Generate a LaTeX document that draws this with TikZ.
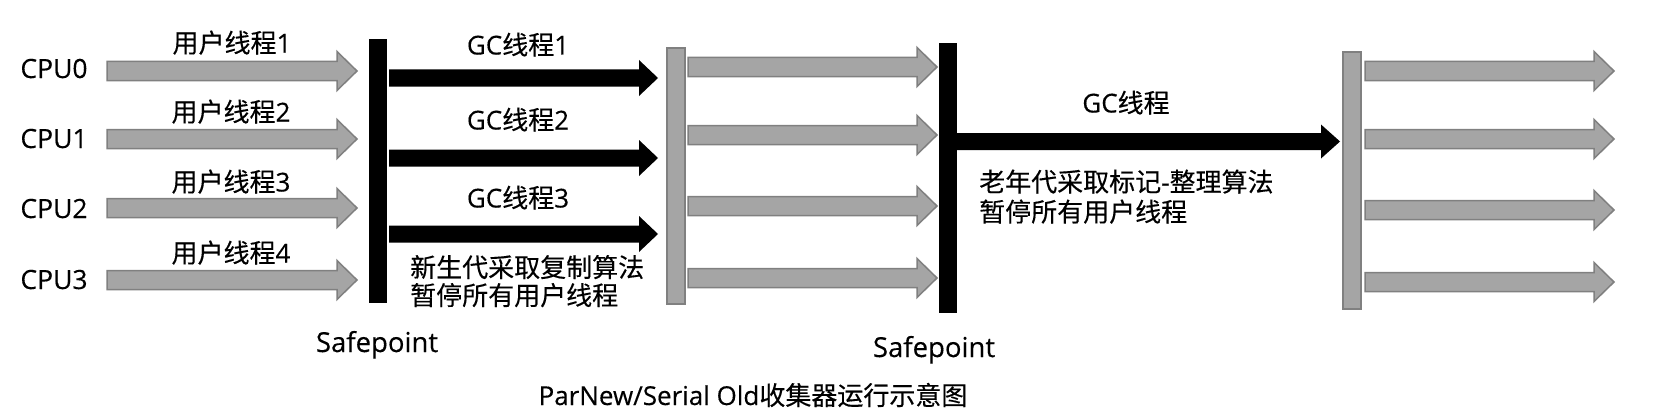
\documentclass[tikz,border=0pt]{standalone}
\usepackage{fontspec}
\setmainfont{Open Sans}[FakeBold=0.3]
\newfontfamily\cjkf{Noto Sans CJK SC}[FakeBold=0.3]
\newcommand{\zh}[1]{{\cjkf #1}}
\definecolor{gfill}{RGB}{165,165,165}
\definecolor{gline}{RGB}{128,128,128}
% style, x-start, x-tip, y-center, half shaft, half head, head length
\newcommand{\blockarrow}[7]{%
  \path[#1] (#2,#4-#5) -- (#3-#7,#4-#5) -- (#3-#7,#4-#6) -- (#3,#4)
    -- (#3-#7,#4+#6) -- (#3-#7,#4+#5) -- (#2,#4+#5) -- cycle;}
\begin{document}
\begin{tikzpicture}[x=1pt,y=-1pt,
  garrow/.style={fill=gfill,draw=gline,line width=1.5pt,line join=miter},
  karrow/.style={fill=black},
  kbar/.style={fill=black},
  gbar/.style={fill=gfill,draw=gline,line width=1.5pt},
  lbl/.style={inner sep=0pt,anchor=base,font=\fontsize{26}{30}\selectfont},
  cpu/.style={inner sep=0pt,anchor=base,font=\fontsize{26.5}{30}\selectfont},
  sfp/.style={inner sep=0pt,anchor=base,font=\fontsize{27.5}{30}\selectfont},
  note/.style={inner sep=0pt,anchor=base west,font=\fontsize{26}{30}\selectfont},
  ttl/.style={inner sep=0pt,anchor=base,font=\fontsize{26}{30}\selectfont}]
\useasboundingbox (0,0) rectangle (1654,420);

% CPU labels
\node[cpu] (cpu0) at (54,78) {CPU0};
\node[cpu] (cpu1) at (54,148) {CPU1};
\node[cpu] (cpu2) at (54,218) {CPU2};
\node[cpu] (cpu3) at (54,289) {CPU3};

% user thread arrows
\blockarrow{garrow}{107}{357}{71}{9.5}{19.5}{20}
\blockarrow{garrow}{107}{357}{139}{9.5}{19.5}{20}
\blockarrow{garrow}{107}{357}{208}{9.5}{19.5}{20}
\blockarrow{garrow}{107}{357}{280}{9.5}{19.5}{20}
\node[lbl] (u1) at (232,52.5) {\zh{用户线程}1};
\node[lbl] (u2) at (231,121.5) {\zh{用户线程}2};
\node[lbl] (u3) at (231,191.5) {\zh{用户线程}3};
\node[lbl] (u4) at (231,262.5) {\zh{用户线程}4};

% safepoint 1
\path[kbar] (369,39) rectangle (387,303);
\node[sfp] (sp1) at (377,352) {Safepoint};

% GC threads
\blockarrow{karrow}{389}{658}{78}{8.5}{18}{19}
\blockarrow{karrow}{389}{658}{158}{8.5}{18}{19}
\blockarrow{karrow}{389}{658}{234}{8.5}{18}{19}
\node[lbl] (g1) at (518,54.5) {GC\zh{线程}1};
\node[lbl] (g2) at (518,129.5) {GC\zh{线程}2};
\node[lbl] (g3) at (518,207.5) {GC\zh{线程}3};
\node[note] (n1a) at (410,277) {\zh{新生代采取复制算法}};
\node[note] (n1b) at (410,305) {\zh{暂停所有用户线程}};

% gray bar 2
\path[gbar] (667,48) rectangle (685,304);
\blockarrow{garrow}{688}{937}{67}{9.5}{19.5}{20}
\blockarrow{garrow}{688}{937}{135}{9.5}{19.5}{20}
\blockarrow{garrow}{688}{937}{206}{9.5}{19.5}{20}
\blockarrow{garrow}{688}{937}{278}{9.5}{19.5}{20}

% safepoint 2
\path[kbar] (939,43) rectangle (957,313);
\node[sfp] (sp2) at (934,357) {Safepoint};
\blockarrow{karrow}{957}{1340}{141.5}{8.5}{17}{19}
\node[lbl] (g) at (1126,112.5) {GC\zh{线程}};
\node[note] (n2a) at (979,191.5) {\zh{老年代采取标记}-\zh{整理算法}};
\node[note] (n2b) at (979,221.5) {\zh{暂停所有用户线程}};

% gray bar 3
\path[gbar] (1343,52) rectangle (1361,309);
\blockarrow{garrow}{1365}{1614}{71}{9.5}{19.5}{20}
\blockarrow{garrow}{1365}{1614}{139}{9.5}{19.5}{20}
\blockarrow{garrow}{1365}{1614}{210}{9.5}{19.5}{20}
\blockarrow{garrow}{1365}{1614}{282}{9.5}{19.5}{20}

% title
\node[ttl] (title) at (753,405) {ParNew/Serial Old\zh{收集器运行示意图}};
\end{tikzpicture}
\end{document}
